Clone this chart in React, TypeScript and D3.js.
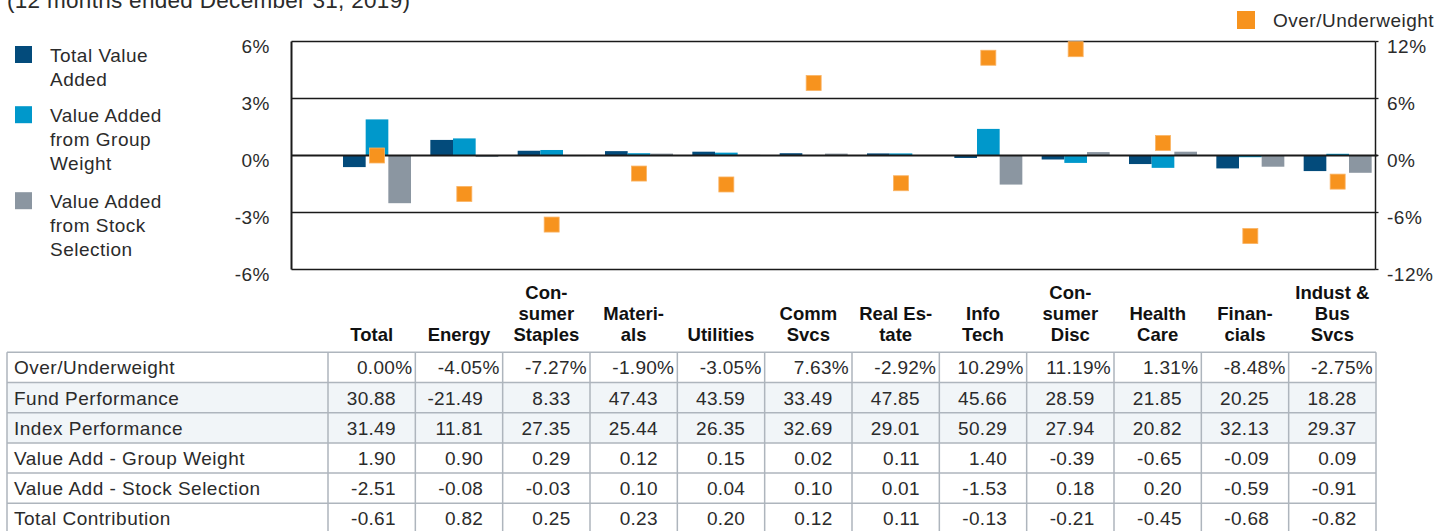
import React from "react";
import * as d3 from "d3";

const categories = ["Total", "Energy", "Consumer Staples", "Materials", "Utilities", "Comm Svcs", "Real Estate", "Info Tech", "Consumer Disc", "Health Care", "Financials", "Indust & Bus Svcs"];
const categoryLines = [["Total"], ["Energy"], ["Con-", "sumer", "Staples"], ["Materi-", "als"], ["Utilities"], ["Comm", "Svcs"], ["Real Es-", "tate"], ["Info", "Tech"], ["Con-", "sumer", "Disc"], ["Health", "Care"], ["Finan-", "cials"], ["Indust &", "Bus", "Svcs"]];

const overUnder = [0.0, -4.05, -7.27, -1.9, -3.05, 7.63, -2.92, 10.29, 11.19, 1.31, -8.48, -2.75];
const fundPerf = [30.88, -21.49, 8.33, 47.43, 43.59, 33.49, 47.85, 45.66, 28.59, 21.85, 20.25, 18.28];
const indexPerf = [31.49, 11.81, 27.35, 25.44, 26.35, 32.69, 29.01, 50.29, 27.94, 20.82, 32.13, 29.37];
const groupWeight = [1.9, 0.9, 0.29, 0.12, 0.15, 0.02, 0.11, 1.4, -0.39, -0.65, -0.09, 0.09];
const stockSelection = [-2.51, -0.08, -0.03, 0.1, 0.04, 0.1, 0.01, -1.53, 0.18, 0.2, -0.59, -0.91];
const totalContribution = [-0.61, 0.82, 0.25, 0.23, 0.2, 0.12, 0.11, -0.13, -0.21, -0.45, -0.68, -0.82];

const leftTicks = [-6, -3, 0, 3, 6];
const rightTicks = [-12, -6, 0, 6, 12];

const seriesNames = ["Total Value Added", "Value Added from Group Weight", "Value Added from Stock Selection"];
const seriesValues = [totalContribution, groupWeight, stockSelection];
const seriesColors = ["#034B7B", "#0098CB", "#8B96A1"];
const legendLines = [["Total Value", "Added"], ["Value Added", "from Group", "Weight"], ["Value Added", "from Stock", "Selection"]];
const orange = "#F7931E";

const tableRows = [
  { label: "Over/Underweight", values: overUnder, pct: true, shade: false },
  { label: "Fund Performance", values: fundPerf, pct: false, shade: true },
  { label: "Index Performance", values: indexPerf, pct: false, shade: true },
  { label: "Value Add - Group Weight", values: groupWeight, pct: false, shade: false },
  { label: "Value Add - Stock Selection", values: stockSelection, pct: false, shade: false },
  { label: "Total Contribution", values: totalContribution, pct: false, shade: false },
];

const locale = d3.formatLocale({ decimal: ".", thousands: ",", grouping: [3], currency: ["$", ""], minus: "-" });
const f2 = locale.format(".2f");
const f0 = locale.format("d");

const FONT = "'Liberation Sans', Arial, Helvetica, sans-serif";
const TXT = "#2b2b2b";

export default function App() {
  const plotL = 291.5, plotR = 1375.5, plotT = 41.5, plotB = 269.5;
  const yL = d3.scaleLinear().domain([-6, 6]).range([plotB, plotT]);
  const yR = d3.scaleLinear().domain([-12, 12]).range([plotB, plotT]);
  const xCol = d3.scaleBand<string>().domain(categories).range([328, 1376]).padding(0);
  const groupOffset = 15;
  const groupW = 68;
  const xSub = d3.scaleBand<number>().domain([0, 1, 2]).range([0, groupW]).padding(0);

  const tableTop = 352.3, rowH = 30.2, tableL = 7;
  const fs = 19;
  const ls = 0.5;

  return (
    <svg width={1450} height={531} style={{ position: "absolute", left: 0, top: 0, fontFamily: FONT }}>
      <rect x={0} y={0} width={1450} height={531} fill="#fff" />
      {/* header (clipped at the top edge, as in the reference) */}
      <text x={7} y={8} fontSize={22.5} letterSpacing={0.3} fill={TXT}>(12 months ended December 31, 2019)</text>

      {/* top-right legend */}
      <rect x={1237} y={11} width={18} height={18} fill={orange} />
      <text x={1273} y={27} fontSize={fs} letterSpacing={ls} fill={TXT}>Over/Underweight</text>

      {/* left legend */}
      {legendLines.map((lines, i) => {
        const base = [61.5, 121.7, 207.7][i];
        return (
          <g key={i}>
            <rect x={15} y={base - 15.5} width={17} height={17} fill={seriesColors[i]} />
            {lines.map((ln, j) => (
              <text key={j} x={50} y={base + j * 24} fontSize={fs} letterSpacing={ls} fill={TXT}>{ln}</text>
            ))}
          </g>
        );
      })}

      {/* bars */}
      {categories.map((c, ci) => (
        <g key={c}>
          {seriesValues.map((vals, si) => {
            const v = vals[ci];
            const x0 = (xCol(c) as number) + groupOffset + (xSub(si) as number);
            return (
              <rect key={si} x={x0} y={Math.min(yL(v), yL(0))} width={xSub.bandwidth()} height={Math.abs(yL(v) - yL(0))} fill={seriesColors[si]} />
            );
          })}
        </g>
      ))}

      {/* gridlines */}
      {leftTicks.map((t) => (
        <line key={t} x1={plotL} x2={plotR + (t === 0 ? 2 : 0)} y1={yL(t)} y2={yL(t)} stroke="#1a1a1a" strokeWidth={t === 0 ? 2 : 1.3} />
      ))}
      {rightTicks.map((t) => (
        <line key={"rt" + t} x1={plotR} x2={plotR + 3} y1={yR(t)} y2={yR(t)} stroke="#1a1a1a" strokeWidth={1.3} />
      ))}
      <line x1={plotL} x2={plotL} y1={plotT} y2={plotB} stroke="#1a1a1a" strokeWidth={2} />
      <line x1={plotR} x2={plotR} y1={plotT} y2={plotB} stroke="#1a1a1a" strokeWidth={1.5} />

      {/* over/underweight squares */}
      {categories.map((c, ci) => {
        const cx = (xCol(c) as number) + groupOffset + groupW / 2;
        const cy = yR(overUnder[ci]);
        return <rect key={"sq" + c} x={cx - 7.5} y={cy - 7.5} width={15} height={15} fill={orange} stroke="#F9B364" strokeWidth={0.8} />;
      })}

      {/* axis labels */}
      {leftTicks.map((t) => (
        <text key={"ll" + t} x={270} y={yL(t) + 11.5} textAnchor="end" fontSize={fs} letterSpacing={ls} fill={TXT}>{f0(t)}%</text>
      ))}
      {rightTicks.map((t) => (
        <text key={"rl" + t} x={1387} y={yR(t) + 11.5} fontSize={fs} letterSpacing={ls} fill={TXT}>{f0(t)}%</text>
      ))}

      {/* category labels */}
      {categories.map((c, ci) => {
        const lines = categoryLines[ci];
        const cx = (xCol(c) as number) + xCol.bandwidth() / 2;
        return lines.map((ln, j) => (
          <text key={c + j} x={cx} y={341 - (lines.length - 1 - j) * 21} textAnchor="middle" fontSize={18.5} fontWeight="bold" fill="#111">{ln}</text>
        ));
      })}

      {/* table */}
      {tableRows.map((row, ri) => {
        const y0 = tableTop + ri * rowH;
        return (
          <g key={row.label}>
            {row.shade && <rect x={tableL} y={y0} width={1376 - tableL} height={rowH} fill="#F1F5F8" />}
            <text x={14} y={y0 + rowH / 2 + 7} fontSize={fs} letterSpacing={ls} fill={TXT}>{row.label}</text>
            {categories.map((c, ci) => {
              const right = (xCol(c) as number) + xCol.bandwidth();
              return (
                <text key={c} x={row.pct ? right - 3 : right - 19.5} y={y0 + rowH / 2 + 7} textAnchor="end" fontSize={fs} letterSpacing={0.3} fill={TXT}>
                  {f2(row.values[ci]) + (row.pct ? "%" : "")}
                </text>
              );
            })}
          </g>
        );
      })}
      {d3.range(tableRows.length + 1).map((i) => (
        <line key={"h" + i} x1={tableL} x2={1376} y1={tableTop + i * rowH} y2={tableTop + i * rowH} stroke="#AEB5BD" strokeWidth={1.5} />
      ))}
      {[tableL, ...categories.map((c) => xCol(c) as number), 1376].map((x, i) => (
        <line key={"v" + i} x1={x} x2={x} y1={tableTop} y2={tableTop + tableRows.length * rowH} stroke="#AEB5BD" strokeWidth={1.5} />
      ))}
    </svg>
  );
}
